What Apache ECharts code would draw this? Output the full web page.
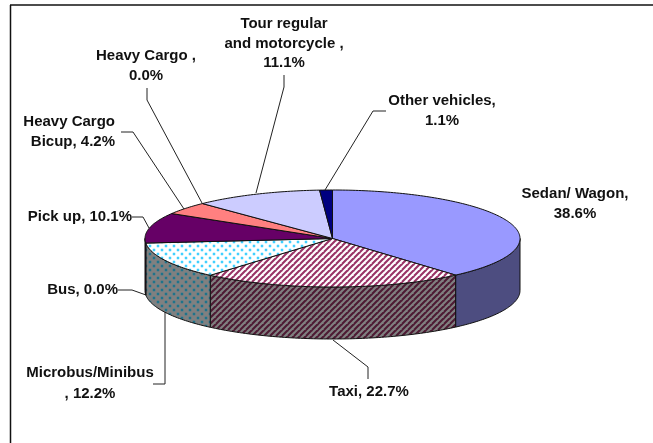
<!DOCTYPE html>
<html>
<head>
<meta charset="utf-8">
<style>html,body{margin:0;padding:0;background:#fff}#c{width:653px;height:443px}</style>
<script src="https://cdn.jsdelivr.net/npm/echarts@6/dist/echarts.min.js"></script>
</head>
<body>
<div id="c"></div>
<script>
// Data, clockwise from 12 o'clock
const categories = ['Sedan/ Wagon', 'Taxi', 'Microbus/Minibus', 'Bus', 'Pick up', 'Heavy Cargo Bicup', 'Heavy Cargo', 'Tour regular and motorcycle', 'Other vehicles'];
const shares = [38.6, 22.7, 12.2, 0.0, 10.1, 4.2, 0.0, 11.1, 1.1];
const labelLines = [
  ['Sedan/ Wagon,', '38.6%'],
  ['Taxi, 22.7%'],
  ['Microbus/Minibus', ', 12.2%'],
  ['Bus, 0.0%'],
  ['Pick up, 10.1%'],
  ['Heavy Cargo', 'Bicup, 4.2%'],
  ['Heavy Cargo ,', '0.0%'],
  ['Tour regular', 'and motorcycle ,', '11.1%'],
  ['Other vehicles,', '1.1%']
];

// Styles and layout, kept apart from the data
const PIE = { cx: 332.5, cy: 238.5, rx: 187.5, ry: 48.5, depth: 52 };
const FONT = 'bold 15px "Liberation Sans", Arial, sans-serif';

function tile(size, draw) {
  const cv = document.createElement('canvas');
  cv.width = cv.height = size;
  draw(cv.getContext('2d'), size);
  return { image: cv, repeat: 'repeat' };
}
function stripes(bg, fg) {
  return tile(6, (g, s) => {
    g.fillStyle = bg; g.fillRect(0, 0, s, s);
    g.strokeStyle = fg; g.lineWidth = 2.1;
    for (let k = -s; k <= 3 * s; k += s) {
      g.beginPath(); g.moveTo(k - s, s); g.lineTo(k + s, -s); g.stroke();
    }
  });
}
function dots(bg, core, halo) {
  return tile(8, (g, s) => {
    g.fillStyle = bg; g.fillRect(0, 0, s, s);
    [[2, 2], [6, 6]].forEach(p => {
      g.fillStyle = halo;
      g.beginPath(); g.arc(p[0], p[1], 1.7, 0, Math.PI * 2); g.fill();
      g.fillStyle = core;
      g.beginPath(); g.arc(p[0], p[1], 0.9, 0, Math.PI * 2); g.fill();
    });
  });
}
const sliceStyles = [
  { top: '#9999FF', wall: '#4D4D80' },
  { top: stripes('#FFFFFF', '#993366'), wall: stripes('#808080', '#4D1A33') },
  { top: dots('#FFFFFF', '#11C4FF', '#A6E8FF'), wall: dots('#808080', '#0A6F8C', '#4F7C8A') },
  { top: '#FFFFFF', wall: '#808080' },
  { top: '#660066', wall: '#330033' },
  { top: '#FF8080', wall: '#804040' },
  { top: '#0066CC', wall: '#003366' },
  { top: '#CCCCFF', wall: '#666680' },
  { top: '#000080', wall: '#000040' }
];
const labelLayout = [
  { x: 575, y: 194, align: 'center', lead: [] },
  { x: 369, y: 392, align: 'center', lead: [[368, 379], [368, 367], [333, 340]] },
  { x: 90, y: 373, gap: 21, align: 'center', lead: [[153, 384], [165, 384], [165, 312]] },
  { x: 118, y: 290, align: 'right', lead: [[118, 290], [132, 290], [146, 295]] },
  { x: 132, y: 217, align: 'right', lead: [[132, 217], [143, 217], [149, 228]] },
  { x: 115, y: 122, gap: 20, align: 'right', lead: [[121, 132], [133, 132], [184, 209]] },
  { x: 146, y: 56, align: 'center', lead: [[147, 88], [147, 100], [202, 203]] },
  { x: 284, y: 24, align: 'center', lead: [[284, 75], [284, 87], [256, 193]] },
  { x: 442, y: 101, gap: 20, align: 'center', lead: [[386, 111], [373, 111], [325, 190]] }
];

const total = shares.reduce((a, b) => a + b, 0);
function rimPoint(deg, dy) {
  const t = deg * Math.PI / 180;
  return [PIE.cx + PIE.rx * Math.sin(t), PIE.cy - PIE.ry * Math.cos(t) + (dy || 0)];
}
function arc(a0, a1, dy) {
  const pts = [], n = Math.max(2, Math.ceil(Math.abs(a1 - a0)));
  for (let i = 0; i <= n; i++) pts.push(rimPoint(a0 + (a1 - a0) * i / n, dy));
  return pts;
}

function renderItem(params, api) {
  const i = params.dataIndex;
  const v = api.value(0);
  let before = 0;
  for (let k = 0; k < i; k++) before += shares[k];
  const a0 = before / total * 360, a1 = (before + v) / total * 360;
  const children = [];
  const st = sliceStyles[i];
  if (v > 0) {
    const w0 = Math.max(a0, 90), w1 = Math.min(a1, 270);
    if (w1 > w0) {
      children.push({
        type: 'polygon',
        shape: { points: arc(w0, w1, 0).concat(arc(w1, w0, PIE.depth)) },
        style: { fill: st.wall, stroke: '#111', lineWidth: 1 }
      });
    }
    children.push({
      type: 'polygon',
      shape: { points: [[PIE.cx, PIE.cy]].concat(arc(a0, a1, 0)) },
      style: { fill: st.top, stroke: '#111', lineWidth: 1 }
    });
  }
  const lay = labelLayout[i];
  if (lay.lead.length) {
    children.push({
      type: 'polyline',
      shape: { points: lay.lead },
      style: { fill: 'none', stroke: '#222', lineWidth: 1 }
    });
  }
  labelLines[i].forEach((line, n) => {
    children.push({
      type: 'text',
      style: {
        text: line, x: lay.x, y: lay.y + n * (lay.gap || 19.5),
        align: lay.align, verticalAlign: 'middle',
        font: FONT, fill: '#111'
      }
    });
  });
  return { type: 'group', children };
}

const chart = echarts.init(document.getElementById('c'), null, { renderer: 'canvas' });
chart.setOption({
  animation: false,
  backgroundColor: '#FFFFFF',
  graphic: [
    { type: 'line', shape: { x1: 10, y1: 5, x2: 653, y2: 5 }, style: { stroke: '#111', lineWidth: 1.5 } },
    { type: 'line', shape: { x1: 10.5, y1: 5, x2: 10.5, y2: 443 }, style: { stroke: '#111', lineWidth: 1.5 } }
  ],
  series: [{
    type: 'custom',
    coordinateSystem: 'none',
    renderItem,
    data: categories.map((name, i) => ({ name, value: [shares[i]] }))
  }]
});
</script>
</body>
</html>
